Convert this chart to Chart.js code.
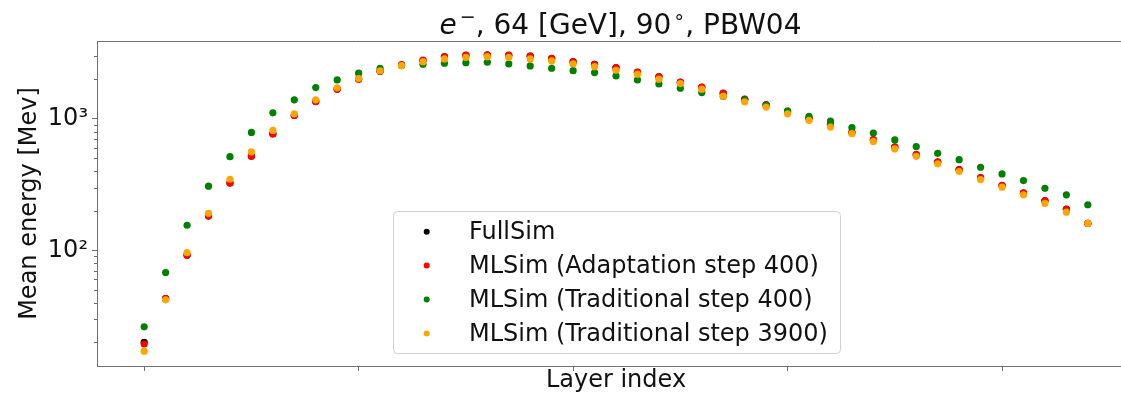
<!DOCTYPE html>
<html>
<head>
<meta charset="utf-8">
<script src="https://cdn.jsdelivr.net/npm/chart.js@4.4.1/dist/chart.umd.min.js"></script>
<style>
  html, body { margin: 0; padding: 0; overflow: hidden; background: #fff; }
</style>
</head>
<body>
<canvas id="mean_energy" width="1140" height="393"></canvas>
<script>
// layer index 0..44
const layers = [0, 1, 2, 3, 4, 5, 6, 7, 8, 9, 10, 11, 12, 13, 14, 15, 16, 17, 18, 19, 20, 21,
    22, 23, 24, 25, 26, 27, 28, 29, 30, 31, 32, 33, 34, 35, 36, 37, 38, 39, 40, 41, 42, 43, 44];

// mean energy per layer [MeV]
const fullSim = [20, 43, 92, 183, 326, 522, 770, 1062, 1355, 1682, 2005, 2300, 2560, 2770, 2960,
    3040, 3050, 3040, 2990, 2870, 2710, 2590, 2440, 2255, 2085, 1895, 1735, 1560, 1405, 1275,
    1130, 1010, 900, 786, 692, 608, 533, 469, 410, 356, 311, 272, 238, 205, 160];
const mlAdapt400 = [19.4, 43, 91.7, 182, 324, 518, 766, 1059, 1352, 1679, 2000, 2297, 2580, 2790,
    2965, 3050, 3060, 3050, 3000, 2880, 2717, 2596, 2446, 2258, 2090, 1897, 1738, 1566, 1410,
    1275, 1130, 1009, 901, 787, 693, 610, 534, 470, 411, 357, 312, 273, 239, 206, 160];
const mlTrad400 = [26.2, 67.8, 155, 307, 515, 787, 1110, 1393, 1727, 1974, 2219, 2421, 2535,
    2596, 2642, 2670, 2689, 2610, 2521, 2421, 2322, 2243, 2117, 1974, 1841, 1708, 1582, 1476,
    1393, 1270, 1150, 1041, 961, 855, 779, 690, 614, 546, 489, 428, 381, 339, 296, 264, 222];
const mlTrad3900 = [17.1, 42, 96, 191, 347, 560, 815, 1091, 1393, 1717, 2020, 2310, 2535, 2717,
    2848, 2933, 2965, 2933, 2848, 2750, 2610, 2490, 2337, 2181, 2000, 1851, 1679, 1486, 1345,
    1226, 1091, 971, 865, 770, 673, 590, 518, 454, 397, 345, 302, 264, 227, 195, 160];

const seriesLabels = ['FullSim', 'MLSim (Adaptation step 400)', 'MLSim (Traditional step 400)',
    'MLSim (Traditional step 3900)'];
const seriesColors = ['#000000', '#ff0000', '#008000', '#ffa500'];
const seriesValues = [fullSim, mlAdapt400, mlTrad400, mlTrad3900];

const xTicks = [0, 10, 20, 30, 40];
const yMajorTicks = [100, 1000];
const yTickLabels = ['10²', '10³'];
const yMinorTicks = [20, 30, 40, 50, 60, 70, 80, 90, 200, 300, 400, 500, 600, 700, 800, 900, 2000, 3000];

const axisColor = '#6e6e6e';
const fontFamily = "'DejaVu Sans', sans-serif";

// spines on top, minor ticks, title and legend box, matplotlib style
const extras = {
    id: 'extras',
    afterDraw(chart) {
        const { ctx, chartArea: a } = chart;
        const y = chart.scales.y;
        ctx.save();

        ctx.strokeStyle = axisColor;
        ctx.lineWidth = 1;
        ctx.beginPath();
        ctx.moveTo(a.left, a.top + 0.5);
        ctx.lineTo(a.right, a.top + 0.5);
        yMinorTicks.forEach(v => {
            const py = Math.round(y.getPixelForValue(v)) + 0.5;
            ctx.moveTo(a.left - 3, py);
            ctx.lineTo(a.left, py);
        });
        ctx.stroke();

        // title: e^-, 64 [GeV], 90°, PBW04
        ctx.fillStyle = '#111';
        ctx.textBaseline = 'alphabetic';
        ctx.textAlign = 'left';
        const italic = 'italic 28px ' + fontFamily;
        const normal = '28px ' + fontFamily;
        const small = '19px ' + fontFamily;
        ctx.font = italic;
        const wE = ctx.measureText('e').width;
        ctx.font = small;
        const wMinus = ctx.measureText('\u2212').width;
        const wDeg = ctx.measureText('\u2218').width;
        ctx.font = normal;
        const wA = ctx.measureText(', 64 [GeV], 90').width;
        const wB = ctx.measureText(', PBW04').width;
        const total = wE + wMinus + wA + wDeg + wB + 4;
        let tx = (a.left + a.right) / 2 - total / 2 + 4;
        const ty = 34;
        ctx.font = italic; ctx.fillText('e', tx, ty); tx += wE + 3;
        ctx.font = small; ctx.fillText('\u2212', tx, ty - 11); tx += wMinus;
        ctx.font = normal; ctx.fillText(', 64 [GeV], 90', tx, ty); tx += wA + 2;
        ctx.font = small; ctx.fillText('\u2218', tx, ty - 11); tx += wDeg;
        ctx.font = normal; ctx.fillText(', PBW04', tx, ty);

        // legend
        const bx = 393.5, by = 211.5, bw = 447, bh = 142;
        ctx.beginPath();
        ctx.roundRect(bx, by, bw, bh, 4);
        ctx.fillStyle = 'rgba(255,255,255,0.8)';
        ctx.fill();
        ctx.strokeStyle = '#d0d0d0';
        ctx.stroke();
        ctx.font = '24px ' + fontFamily;
        ctx.textBaseline = 'middle';
        seriesLabels.forEach((label, i) => {
            const ry = 231.7 + i * 33.9;
            ctx.fillStyle = seriesColors[i];
            ctx.beginPath();
            ctx.arc(426.7, ry, 3, 0, Math.PI * 2);
            ctx.fill();
            ctx.fillStyle = '#111';
            ctx.fillText(label, 469, ry + 1);
        });
        ctx.restore();
    }
};

const config = {
    type: 'scatter',
    data: {
        datasets: seriesLabels.map((label, i) => ({
            label,
            data: layers.map((l, j) => ({ x: l, y: seriesValues[i][j] })),
            backgroundColor: seriesColors[i],
            borderColor: seriesColors[i],
            borderWidth: 0,
            pointRadius: 3.6,
            pointHoverRadius: 3.6,
            order: seriesLabels.length - i,
        }))
    },
    options: {
        responsive: false,
        animation: false,
        events: [],
        layout: { padding: { top: 41, right: 5, left: 0, bottom: 0 } },
        scales: {
            x: {
                type: 'linear',
                min: -2.2,
                max: 46.2,
                afterBuildTicks: scale => { scale.ticks = xTicks.map(v => ({ value: v })); },
                afterFit: scale => { scale.height = 27; },
                ticks: { callback: () => '', padding: 0 },
                grid: { drawOnChartArea: false, tickLength: 5, color: axisColor },
                border: { color: axisColor, width: 1 },
                title: {
                    display: true,
                    text: 'Layer index',
                    color: '#111',
                    font: { family: fontFamily, size: 24, lineHeight: 1.0 },
                    padding: { top: 0, bottom: 0 }
                }
            },
            y: {
                type: 'logarithmic',
                min: 13.2,
                max: 3900,
                afterBuildTicks: scale => { scale.ticks = yMajorTicks.map(v => ({ value: v, major: true })); },
                afterFit: scale => { scale.width = 97; },
                ticks: {
                    callback: value => yTickLabels[yMajorTicks.indexOf(value)] ?? '',
                    color: '#111',
                    padding: 4,
                    font: { family: fontFamily, size: 24 }
                },
                grid: { drawOnChartArea: false, tickLength: 5, color: axisColor },
                border: { color: axisColor, width: 1 },
                title: {
                    display: true,
                    text: 'Mean energy [Mev]',
                    color: '#111',
                    font: { family: fontFamily, size: 24, lineHeight: 1.0 },
                    padding: { top: 18, bottom: 0 }
                }
            }
        },
        plugins: {
            legend: { display: false },
            title: { display: false },
            tooltip: { enabled: false }
        }
    },
    plugins: [extras]
};

new Chart(document.getElementById('mean_energy'), config);
</script>
</body>
</html>
